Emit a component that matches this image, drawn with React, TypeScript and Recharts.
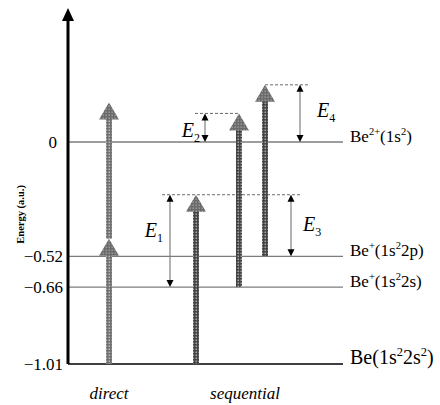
import React from 'react';
import { ComposedChart, XAxis, YAxis, ReferenceLine, ReferenceDot } from 'recharts';

// energy levels (a.u.) and state labels (^{..} = superscript)
const levelEnergies = [0, -0.52, -0.66, -1.01];
const levelLabels = ['Be^{2+}(1s^{2})', 'Be^{+}(1s^{2}2p)', 'Be^{+}(1s^{2}2s)', 'Be(1s^{2}2s^{2})'];

// process groups along the horizontal
const groupPositions = [41, 177];
const groupLabels = ['direct', 'sequential'];

// photon arrows: column, start energy, end energy
const arrowX = [41, 41, 128, 171, 197];
const arrowFrom = [-1.01, -0.44, -1.01, -0.66, -0.52];
const arrowTo = [-0.44, 0.18, -0.24, 0.13, 0.26];
const arrowShade = ['light', 'light', 'dark', 'dark', 'dark'];

// dashed marks at the final energies
const markEnergy = [-0.24, 0.13, 0.26];
const markStart = [94, 127, 197];
const markEnd = [232, 172, 242];

// excess energies E1..E4
const gapNames = ['1', '2', '3', '4'];
const gapX = [102, 137, 223, 232];
const gapLow = [-0.66, 0, -0.52, 0];
const gapHigh = [-0.24, 0.13, -0.24, 0.26];

// where each E label sits relative to its arrow
const gapLabelDx = [-7, -5, 12, 17];
const gapLabelDy = [-11, 2, -2, -3];

const Y_TOP = 0.555;
const FONT = '"Liberation Serif", "DejaVu Serif", serif';

const splitSup = (s: string) =>
  s.split(/\^\{([^}]*)\}/).map((t, i) => ({ t, sup: i % 2 === 1 })).filter((p) => p.t);

const RichText = ({ x, y, text, size }: { x: number; y: number; text: string; size: number }) => {
  const parts = splitSup(text);
  let up = false;
  const shift = size * 0.42;
  return (
    <text x={x} y={y} dy="0.35em" fontSize={size} fontFamily={FONT} fill="#000">
      {parts.map((p, i) => {
        let dy = 0;
        if (p.sup && !up) { dy = -shift; up = true; }
        else if (!p.sup && up) { dy = shift; up = false; }
        return (
          <tspan key={i} dy={dy} fontSize={p.sup ? size * 0.62 : size}>
            {p.t}
          </tspan>
        );
      })}
    </text>
  );
};

const GrainDefs = () => (
  <defs>
    <pattern id="grain-dark" width="3" height="3" patternUnits="userSpaceOnUse">
      <rect width="3" height="3" fill="#3f3f3f" />
      <rect x="0.5" y="0.5" width="1.6" height="1.6" fill="#a8a8a8" />
    </pattern>
    <pattern id="grain-light" width="3" height="3" patternUnits="userSpaceOnUse">
      <rect width="3" height="3" fill="#6e6e6e" />
      <rect x="0.5" y="0.5" width="1.6" height="1.6" fill="#b8b8b8" />
    </pattern>
    <pattern id="grain-head" width="3" height="3" patternUnits="userSpaceOnUse">
      <rect width="3" height="3" fill="#6a6a6a" />
      <rect x="0.5" y="0.5" width="1.4" height="1.4" fill="#a0a0a0" />
    </pattern>
  </defs>
);

const photonShape = (shade: string) => (props: any) => {
  const { x1, y1, y2 } = props;
  const tip = Math.min(y1, y2);
  const base = Math.max(y1, y2);
  const headH = 17;
  const headW = 10;
  const shaftW = 6;
  return (
    <g>
      <GrainDefs />
      <rect x={x1 - shaftW / 2} y={tip + headH - 2} width={shaftW} height={base - tip - headH + 2} fill={`url(#grain-${shade})`} />
      <polygon
        points={`${x1},${tip} ${x1 - headW},${tip + headH} ${x1 + headW},${tip + headH}`}
        fill="url(#grain-head)"
      />
    </g>
  );
};

const levelShape = (i: number) => (props: any) => {
  const { x1, y1, x2 } = props;
  const ground = i === levelEnergies.length - 1;
  return (
    <g>
      <line x1={x1} y1={y1} x2={x2} y2={y1} stroke={ground ? '#000' : '#7c7c7c'} strokeWidth={ground ? 1.6 : 1.3} />
      <RichText x={x2 + 7} y={y1} text={levelLabels[i]} size={ground ? 20 : 17} />
    </g>
  );
};

const gapShape = (i: number) => (props: any) => {
  const { x1, y1, y2 } = props;
  const top = Math.min(y1, y2);
  const bot = Math.max(y1, y2);
  const mid = (top + bot) / 2 + gapLabelDy[i];
  const dx = gapLabelDx[i];
  return (
    <g>
      <line x1={x1} y1={top + 2} x2={x1} y2={bot - 2} stroke="#808080" strokeWidth={1.2} />
      <polygon points={`${x1},${top} ${x1 - 3.5},${top + 7} ${x1 + 3.5},${top + 7}`} fill="#000" />
      <polygon points={`${x1},${bot} ${x1 - 3.5},${bot - 7} ${x1 + 3.5},${bot - 7}`} fill="#000" />
      <text
        x={x1 + dx}
        y={mid}
        dy="0.35em"
        textAnchor={dx < 0 ? 'end' : 'start'}
        fontFamily={FONT}
        fontSize={20}
        fontStyle="italic"
        fill="#000"
      >
        E
        <tspan fontSize={12} fontStyle="normal" dy={5}>{gapNames[i]}</tspan>
      </text>
    </g>
  );
};

const axisHead = (props: any) => {
  const { cx, cy } = props;
  return <polygon points={`${cx},${cy - 12} ${cx - 6},${cy + 1} ${cx + 6},${cy + 1}`} fill="#000" />;
};

const YTick = (props: any) => {
  const { x, y, payload } = props;
  const v = payload.value as number;
  const txt = v === 0 ? '0' : '\u2212' + Math.abs(v).toFixed(2);
  // the zero label sits a little further from the axis in the original
  const gap = v === 0 ? 11 : 5;
  return (
    <text x={x - gap} y={y} dy="0.35em" textAnchor="end" fontFamily={FONT} fontSize={17} fill="#000">
      {txt}
    </text>
  );
};

const XTick = (props: any) => {
  const { x, y, payload } = props;
  const idx = groupPositions.indexOf(payload.value);
  return (
    <text x={x} y={y + 35} textAnchor="middle" fontFamily={FONT} fontSize={17} fontStyle="italic" fill="#000">
      {groupLabels[idx]}
    </text>
  );
};

const YTitle = (props: any) => {
  const { viewBox } = props;
  const x = viewBox.x + 12;
  const y = viewBox.y + viewBox.height * 0.565;
  return (
    <text x={x} y={y} transform={`rotate(-90, ${x}, ${y})`} textAnchor="middle" dy="0.35em" fontFamily={FONT} fontSize={10.5} fontWeight="bold" fill="#000">
      Energy (a.u.)
    </text>
  );
};

export default function App() {
  return (
    <div style={{ position: 'absolute', left: 0, top: 0, background: '#fff' }}>
      <ComposedChart width={440} height={405} margin={{ top: 20, right: 97, bottom: 11, left: 8 }}>
        <XAxis
          type="number"
          dataKey="x"
          domain={[0, 275]}
          allowDataOverflow
          ticks={groupPositions}
          tick={<XTick />}
          tickLine={false}
          tickSize={0}
          tickMargin={0}
          axisLine={false}
          height={30}
        />
        <YAxis
          type="number"
          dataKey="e"
          domain={[-1.01, Y_TOP]}
          allowDataOverflow
          ticks={levelEnergies}
          tick={<YTick />}
          tickLine={false}
          tickSize={0}
          tickMargin={0}
          axisLine={{ stroke: '#000', strokeWidth: 3 }}
          width={60}
          label={<YTitle />}
        />
        {levelEnergies.map((e, i) => (
          <ReferenceLine
            key={`lv${i}`}
            segment={[{ x: 0, y: e }, { x: 275, y: e }]}
            shape={levelShape(i)}
            ifOverflow="visible"
          />
        ))}
        {markEnergy.map((e, i) => (
          <ReferenceLine
            key={`mk${i}`}
            segment={[{ x: markStart[i], y: e }, { x: markEnd[i], y: e }]}
            stroke="#6a6a6a"
            strokeWidth={1}
            strokeDasharray="3 2"
            ifOverflow="visible"
          />
        ))}
        {arrowX.map((x, i) => (
          <ReferenceLine
            key={`ar${i}`}
            segment={[{ x, y: arrowFrom[i] }, { x, y: arrowTo[i] }]}
            shape={photonShape(arrowShade[i])}
            ifOverflow="visible"
          />
        ))}
        {gapX.map((x, i) => (
          <ReferenceLine
            key={`gp${i}`}
            segment={[{ x, y: gapLow[i] }, { x, y: gapHigh[i] }]}
            shape={gapShape(i)}
            ifOverflow="visible"
          />
        ))}
        <ReferenceDot x={0} y={Y_TOP} r={0} shape={axisHead} ifOverflow="visible" />
      </ComposedChart>
    </div>
  );
}
